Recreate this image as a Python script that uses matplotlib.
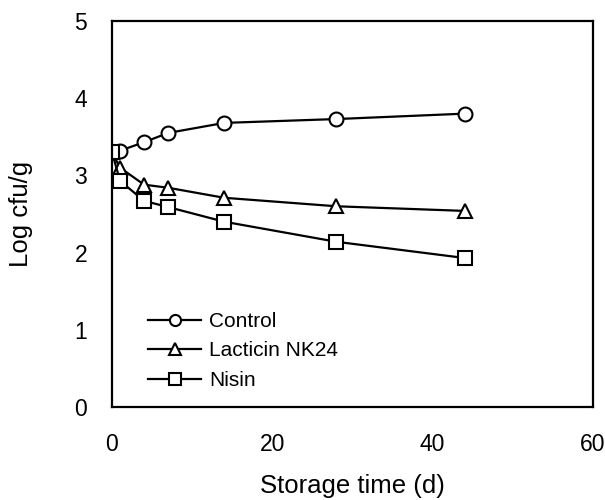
import matplotlib
matplotlib.use("Agg")
import matplotlib.pyplot as plt

plt.rcParams['font.family'] = ['Liberation Sans', 'DejaVu Sans']

days_control = [0, 1, 4, 7, 14, 28, 44]
control = [3.30, 3.32, 3.43, 3.55, 3.68, 3.73, 3.80]
days_lacticin = [0, 1, 4, 7, 14, 28, 44]
lacticin = [3.30, 3.10, 2.88, 2.84, 2.71, 2.60, 2.54]
days_nisin = [0, 1, 4, 7, 14, 28, 44]
nisin = [3.30, 2.93, 2.67, 2.59, 2.40, 2.14, 1.93]

fig = plt.figure(figsize=(6.05, 5.0), dpi=100)
ax = fig.add_axes([112/605, 1 - 407/500, (593-112)/605, (407-21)/500])

mk = dict(color='black', lw=1.6, markerfacecolor='white', markeredgecolor='black',
          markeredgewidth=1.5, markersize=10)
ax.plot(days_control, control, marker='o', label='Control', **mk)
ax.plot(days_lacticin, lacticin, marker='^', label='Lacticin NK24', **mk)
ax.plot(days_nisin, nisin, marker='s', label='Nisin', **mk)

ax.set_xlim(0, 60)
ax.set_ylim(0, 5)
ax.set_xticks([0, 20, 40, 60])
ax.set_yticks([0, 1, 2, 3, 4, 5])
ax.tick_params(axis='y', length=0, labelsize=16.5, pad=18)
ax.tick_params(axis='x', length=0, labelsize=16.5, pad=19)
for s in ax.spines.values():
    s.set_linewidth(1.6)

ax.set_xlabel('Storage time (d)', fontsize=18.5, labelpad=13)
ax.set_ylabel('Log cfu/g', fontsize=18.5, labelpad=30)

leg = ax.legend(loc='upper left', bbox_to_anchor=((148-112)/481, (407-312)/386),
                frameon=False, borderpad=0, borderaxespad=0,
                fontsize=15, handlelength=2.55, handletextpad=0.4, labelspacing=0.5,
                markerscale=0.8)

fig.savefig('out.png', dpi=100)
